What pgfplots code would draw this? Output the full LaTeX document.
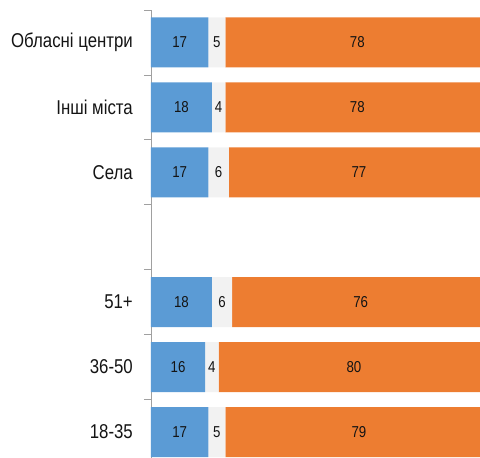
\documentclass[border=0pt]{standalone}
\usepackage{fontspec}
\setmainfont[FakeStretch=0.84]{Liberation Sans}
\usepackage{pgfplots}
\usepackage{pgfplotstable}
\pgfplotsset{compat=1.18}
\definecolor{cblue}{HTML}{5B9BD5}
\definecolor{cgray}{HTML}{F2F2F2}
\definecolor{corange}{HTML}{ED7D31}
\definecolor{axgray}{HTML}{A0A0A0}
\definecolor{txt}{HTML}{141414}
% values
\pgfplotstableread{
y blue gray orange
0 17 5 79
1 16 4 80
2 18 6 76
4 17 6 77
5 18 4 78
6 17 5 78
}\data
\pgfplotsset{common/.style={scale only axis, width=329pt, height=448pt,
 xmin=0, xmax=97.3, ymin=-0.4, ymax=6.5}}
\begin{document}
\begin{tikzpicture}
\begin{axis}[name=ax, common,
 xbar stacked, bar width=50pt,
 axis x line=none, axis y line*=left,
 y axis line style={-, draw=axgray, line width=0.8pt},
 ytick={0,1,2,4,5,6},
 yticklabels={18-35,36-50,51+,Села,Інші міста,Обласні центри},
 major tick length=0pt,
 minor ytick={-0.5,0.5,...,6.5}, minor tick length=7pt, tick align=outside,
 ytick style={draw=axgray, line width=0.8pt},
 yticklabel style={font=\fontsize{20}{24}\selectfont, text=txt, inner sep=0pt, xshift=-18pt},
]
\addplot[fill=cblue, draw=none] table[x=blue, y=y]{\data};
\addplot[fill=cgray, draw=none] table[x=gray, y=y]{\data};
\addplot[fill=corange, draw=none] table[x=orange, y=y]{\data};
\end{axis}
\begin{axis}[common, hide axis, clip=false,
 nodes near coords={\fontsize{15.8}{18}\selectfont\pgfplotspointmeta},
 point meta=explicit symbolic,
 every node near coord/.style={text=txt, anchor=center, inner sep=0pt},
]
\addplot[only marks, mark=none] table[x=mb, y=y, meta=blue]{
y mb blue
0 8.5 17
1 8 16
2 9 18
4 8.5 17
5 9 18
6 8.5 17
};
\addplot[only marks, mark=none] table[x=mg, y=y, meta=gray]{
y mg gray
0 19.5 5
1 18 4
2 21 6
4 20 6
5 20 4
6 19.5 5
};
\addplot[only marks, mark=none] table[x=mo, y=y, meta=orange]{
y mo orange
0 61.5 79
1 60 80
2 62 76
4 61.5 77
5 61 78
6 61 78
};
\end{axis}
\pgfresetboundingbox
\path ([xshift=-151pt]ax.south west) rectangle ([yshift=10pt]ax.north east);
\end{tikzpicture}
\end{document}
